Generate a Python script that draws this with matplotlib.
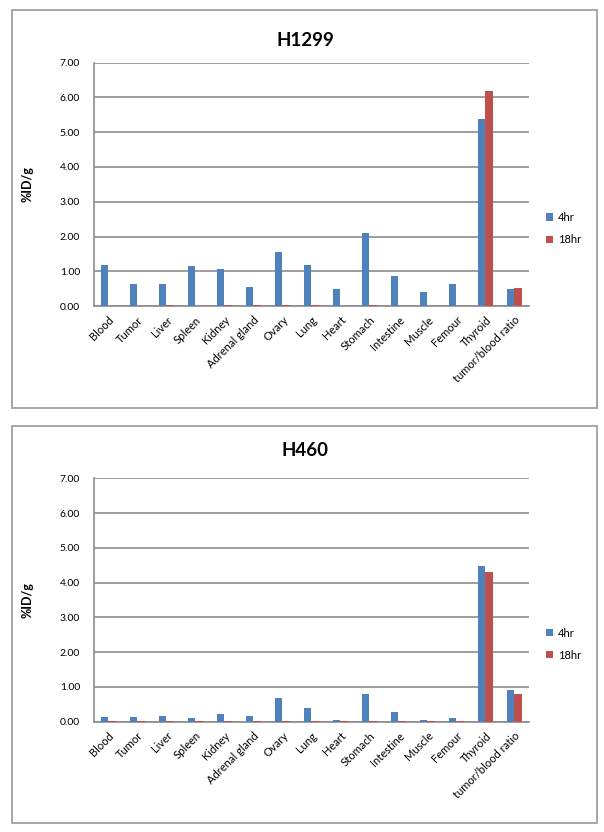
import numpy as np
import matplotlib
matplotlib.use("Agg")
import matplotlib.pyplot as plt
from matplotlib.patches import Rectangle

plt.rcParams['font.family'] = ['Lato', 'DejaVu Sans']

# data ---------------------------------------------
organs = ['Blood', 'Tumor', 'Liver', 'Spleen', 'Kidney', 'Adrenal gland', 'Ovary',
          'Lung', 'Heart', 'Stomach', 'Intestine', 'Muscle', 'Femour', 'Thyroid',
          'tumor/blood ratio']
series_names = ['4hr', '18hr']

h1299_4hr = [1.19, 0.62, 0.62, 1.15, 1.07, 0.55, 1.56, 1.19, 0.49, 2.10, 0.85, 0.41, 0.64, 5.38, 0.49]
h1299_18hr = [0.01, 0.01, 0.03, 0.01, 0.03, 0.03, 0.03, 0.03, 0.01, 0.03, 0.01, 0.01, 0.01, 6.20, 0.53]

h460_4hr = [0.15, 0.15, 0.17, 0.12, 0.22, 0.17, 0.67, 0.39, 0.06, 0.81, 0.29, 0.05, 0.10, 4.47, 0.92]
h460_18hr = [0.01, 0.01, 0.03, 0.01, 0.03, 0.01, 0.03, 0.01, 0.01, 0.02, 0.01, 0.01, 0.01, 4.31, 0.80]

yticks = [0, 1, 2, 3, 4, 5, 6, 7]

blue = '#4F81BD'
red = '#C0504D'
grid_c = '#8C8C8C'

fig = plt.figure(figsize=(6.04, 8.32), dpi=100)

# panel frames
for y0, h in [(0.5096, 0.4784), (0.0108, 0.4772)]:
    fig.patches.append(Rectangle((0.0199, y0), 0.9685, h, transform=fig.transFigure,
                                 fill=False, edgecolor='#A6A6A6', linewidth=1.4))


def draw_panel(rect, title, v4, v18, title_y):
    ax = fig.add_axes(rect)
    x = np.arange(len(organs))
    w = 0.27
    ax.bar(x - w / 2, v4, w, color=blue, label=series_names[0], zorder=3)
    ax.bar(x + w / 2, v18, w, color=red, label=series_names[1], zorder=3)
    ax.set_xlim(-0.5, len(organs) - 0.5)
    ax.set_ylim(0, 7)
    ax.set_yticks(yticks)
    ax.set_yticklabels(['%.2f' % t for t in yticks], fontsize=7.5)
    ax.set_xticks(x)
    ax.set_xticklabels(organs, rotation=45, ha='right', rotation_mode='anchor', fontsize=8)
    ax.tick_params(axis='y', length=0, pad=10)
    ax.tick_params(axis='x', length=0, pad=6)
    ax.yaxis.grid(True, color=grid_c, linewidth=1.2, zorder=0)
    ax.set_axisbelow(True)
    for s in ['top', 'right']:
        ax.spines[s].set_visible(False)
    ax.spines['left'].set_color(grid_c)
    ax.spines['bottom'].set_color(grid_c)
    ax.spines['left'].set_linewidth(1.2)
    ax.spines['bottom'].set_linewidth(1.2)
    ax.set_ylabel('%ID/g', fontsize=9, fontweight='bold')
    ax.yaxis.set_label_coords(-0.14, 0.5)
    fig.text(0.505, title_y, title, fontsize=13.5, fontweight='bold', ha='center', va='center')
    ax.legend(loc='upper left', bbox_to_anchor=(1.03, 0.405), frameon=False, fontsize=8,
              handlelength=0.6, handleheight=0.6, handletextpad=0.4, labelspacing=1.0,
              borderaxespad=0)
    return ax


draw_panel([0.1556, 0.6322, 0.7202, 0.2924], 'H1299', h1299_4hr, h1299_18hr, 1 - 40 / 832)
draw_panel([0.1556, 0.1325, 0.7202, 0.2926], 'H460', h460_4hr, h460_18hr, 1 - 451 / 832)

fig.savefig('out.png', dpi=100)
